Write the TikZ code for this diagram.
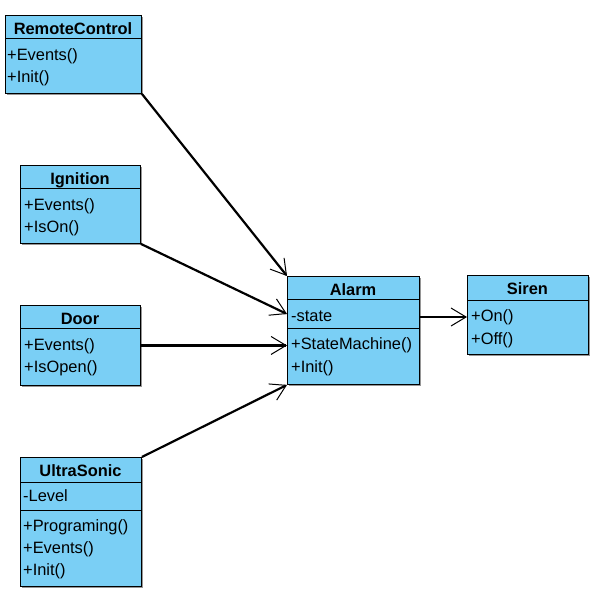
\documentclass[tikz,border=0pt]{standalone}
\usepackage{fontspec}
\setmainfont{Liberation Sans}
\usetikzlibrary{arrows.meta,shadows}
\definecolor{clsblue}{RGB}{122,207,245}
\definecolor{shadowgray}{RGB}{150,150,150}
\tikzset{
  clsbox/.style={draw=black, line width=0.9pt, fill=clsblue, inner sep=0pt, anchor=north west,
     drop shadow={shadow xshift=2pt, shadow yshift=-2pt, opacity=1, fill=shadowgray}},
  clstitle/.style={font=\fontsize{16.4}{19}\selectfont\bfseries, anchor=base, inner sep=0pt},
  member/.style={font=\fontsize{16.4}{19}\selectfont, anchor=base west, inner sep=0pt},
  divider/.style={line width=0.9pt},
  assoc/.style={line width=2.2pt, -{Straight Barb[length=15pt,width=18pt,line width=1pt]}},
}
\begin{document}
\begin{tikzpicture}[x=1pt,y=-1pt]
\useasboundingbox (0,0) rectangle (593,595);
% RemoteControl
\node[clsbox, minimum width=136pt, minimum height=78pt] (rc) at (5,15) {};
\draw[divider] ([yshift=-23pt]rc.north west) -- ([yshift=-23pt]rc.north east);
\node[clstitle] (rc-t) at (73,34) {RemoteControl};
\node[member] (rc-1) at (7,60.5) {+Events()};
\node[member] (rc-2) at (7,82.5) {+Init()};
% Ignition
\node[clsbox, minimum width=120pt, minimum height=78pt] (ig) at (20,165) {};
\draw[divider] ([yshift=-23pt]ig.north west) -- ([yshift=-23pt]ig.north east);
\node[clstitle] (ig-t) at (80,184) {Ignition};
\node[member] (ig-1) at (24,210.5) {+Events()};
\node[member] (ig-2) at (24,232.5) {+IsOn()};
% Door
\node[clsbox, minimum width=120pt, minimum height=80pt] (door) at (20,305) {};
\draw[divider] ([yshift=-23pt]door.north west) -- ([yshift=-23pt]door.north east);
\node[clstitle] (door-t) at (80,324) {Door};
\node[member] (door-1) at (24,350.5) {+Events()};
\node[member] (door-2) at (24,372.5) {+IsOpen()};
% UltraSonic
\node[clsbox, minimum width=121pt, minimum height=129pt] (us) at (20,457) {};
\draw[divider] ([yshift=-25pt]us.north west) -- ([yshift=-25pt]us.north east);
\draw[divider] ([yshift=-53pt]us.north west) -- ([yshift=-53pt]us.north east);
\node[clstitle] (us-t) at (80.5,476) {UltraSonic};
\node[member] (us-a) at (23,501.5) {-Level};
\node[member] (us-1) at (23,531) {+Programing()};
\node[member] (us-2) at (23,553) {+Events()};
\node[member] (us-3) at (23,575) {+Init()};
% Alarm
\node[clsbox, minimum width=132pt, minimum height=108pt] (al) at (287,276) {};
\draw[divider] ([yshift=-23pt]al.north west) -- ([yshift=-23pt]al.north east);
\draw[divider] ([yshift=-52pt]al.north west) -- ([yshift=-52pt]al.north east);
\node[clstitle] (al-t) at (353,295) {Alarm};
\node[member] (al-a) at (291,321) {-state};
\node[member] (al-1) at (291,349.3) {+StateMachine()};
\node[member] (al-2) at (291,372.7) {+Init()};
% Siren
\node[clsbox, minimum width=121pt, minimum height=79pt] (si) at (467,275) {};
\draw[divider] ([yshift=-25pt]si.north west) -- ([yshift=-25pt]si.north east);
\node[clstitle] (si-t) at (527.5,294) {Siren};
\node[member] (si-1) at (471,321.7) {+On()};
\node[member] (si-2) at (471,344) {+Off()};
% connection points
\coordinate (al-s) at ([yshift=-38pt]al.north west);
\coordinate (al-r) at ([yshift=-41pt]al.north east);
% connectors
\draw[assoc] (rc.south east) -- (al.north west);
\draw[assoc] (ig.south east) -- (al-s);
\draw[assoc] (door.east) -- (door.east -| al.west);
\draw[assoc] (us.north east) -- (al.south west);
\draw[assoc] (al-r) -- (al-r -| si.west);
\end{tikzpicture}
\end{document}
